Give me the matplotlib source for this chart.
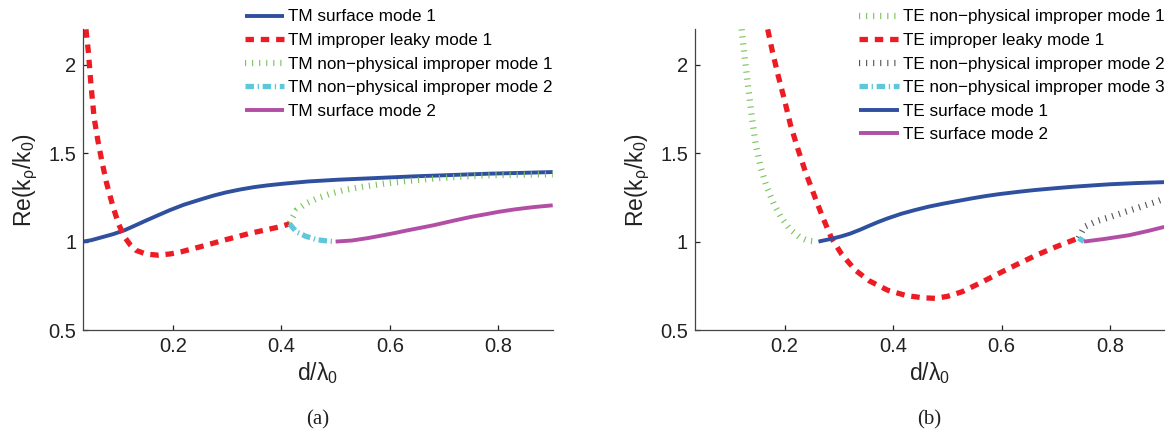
import numpy as np
import matplotlib
matplotlib.use("Agg")
import matplotlib.pyplot as plt

plt.rcParams['font.family'] = ['Liberation Sans', 'DejaVu Sans']
plt.rcParams['mathtext.fontset'] = 'custom'
plt.rcParams['mathtext.rm'] = 'Liberation Sans'
plt.rcParams['mathtext.it'] = 'Liberation Sans:italic'

# ---- panel (a): TM modes ----
tm_s1_x = [0.035, 0.05, 0.07, 0.09, 0.111, 0.13, 0.15, 0.17, 0.194, 0.22, 0.25, 0.275, 0.298, 0.325,
           0.35, 0.375, 0.403, 0.45, 0.506, 0.58, 0.646, 0.72, 0.784, 0.85, 0.9]
tm_s1_y = [1.0, 1.008, 1.025, 1.042, 1.064, 1.09, 1.118, 1.145, 1.177, 1.208, 1.237, 1.26, 1.278, 1.295,
           1.308, 1.318, 1.327, 1.34, 1.35, 1.36, 1.369, 1.377, 1.384, 1.389, 1.393]

tm_leaky_x = [0.040, 0.0445, 0.049, 0.055, 0.062, 0.069, 0.078, 0.09, 0.1, 0.111, 0.122, 0.132, 0.15, 0.173,
              0.195, 0.215, 0.25, 0.298, 0.34, 0.368, 0.395, 0.415]
tm_leaky_y = [2.2, 2.07, 1.894, 1.70, 1.57, 1.459, 1.33, 1.195, 1.1, 1.026, 0.98, 0.951, 0.93, 0.923,
              0.93, 0.942, 0.97, 1.011, 1.045, 1.064, 1.082, 1.1]

tm_np1_x = [0.415, 0.428, 0.445, 0.465, 0.49, 0.514, 0.55, 0.588, 0.63, 0.68, 0.72, 0.772, 0.83, 0.9]
tm_np1_y = [1.105, 1.177, 1.215, 1.243, 1.27, 1.29, 1.31, 1.327, 1.342, 1.356, 1.365, 1.374, 1.378, 1.38]

tm_np2_x = [0.415, 0.428, 0.445, 0.465, 0.48, 0.498]
tm_np2_y = [1.1, 1.054, 1.03, 1.011, 1.005, 1.0]

tm_s2_x = [0.5, 0.53, 0.56, 0.588, 0.61, 0.63, 0.655, 0.68, 0.72, 0.75, 0.772, 0.8, 0.83, 0.865, 0.9]
tm_s2_y = [1.0, 1.006, 1.02, 1.036, 1.049, 1.062, 1.077, 1.092, 1.12, 1.14, 1.152, 1.168, 1.182, 1.195, 1.205]

# ---- panel (b): TE modes ----
te_np1_x = [0.121, 0.127, 0.1335, 0.14, 0.147, 0.156, 0.167, 0.18, 0.194, 0.21, 0.228, 0.243, 0.258]
te_np1_y = [2.2, 2.03, 1.863, 1.70, 1.55, 1.42, 1.31, 1.215, 1.135, 1.07, 1.025, 1.005, 1.0]

te_leaky_x = [0.169, 0.178, 0.189, 0.2, 0.211, 0.225, 0.239, 0.255, 0.27, 0.2866, 0.305, 0.33, 0.355, 0.39,
              0.424, 0.455, 0.478, 0.5, 0.527, 0.56, 0.595, 0.63, 0.664, 0.7, 0.742]
te_leaky_y = [2.2, 2.07, 1.93, 1.80, 1.66, 1.52, 1.39, 1.26, 1.14, 1.02, 0.93, 0.84, 0.78, 0.725,
              0.695, 0.682, 0.679, 0.69, 0.716, 0.765, 0.82, 0.873, 0.923, 0.97, 1.02]

te_np2_x = [0.742, 0.7525, 0.775, 0.8, 0.83, 0.855, 0.88, 0.9]
te_np2_y = [1.02, 1.083, 1.115, 1.139, 1.17, 1.195, 1.22, 1.243]

te_np3_x = [0.742, 0.747, 0.752]
te_np3_y = [1.02, 1.01, 1.0]

te_s1_x = [0.2626, 0.29, 0.305, 0.321, 0.34, 0.355, 0.372, 0.389, 0.415, 0.44, 0.465, 0.492, 0.52, 0.545,
           0.57, 0.595, 0.63, 0.66, 0.7, 0.732, 0.77, 0.8, 0.85, 0.9]
te_s1_y = [1.0, 1.018, 1.03, 1.045, 1.068, 1.088, 1.11, 1.13, 1.157, 1.178, 1.197, 1.214, 1.23, 1.244,
           1.257, 1.268, 1.281, 1.291, 1.302, 1.31, 1.318, 1.324, 1.331, 1.336]

te_s2_x = [0.752, 0.79, 0.835, 0.87, 0.9]
te_s2_y = [1.0, 1.015, 1.036, 1.06, 1.083]

xticks = [0.2, 0.4, 0.6, 0.8]
xtick_labels = ['0.2', '0.4', '0.6', '0.8']
yticks = [0.5, 1.0, 1.5, 2.0]
ytick_labels = ['0.5', '1', '1.5', '2']

# line styles (MATLAB-like)
blue = '#2f4f9f'
red = '#ed1c24'
green = '#78c35a'
cyan = '#5ec7db'
magenta = '#b24fa5'
grey = '#555555'

solid = dict(lw=2.8, ls='-', solid_capstyle='butt', solid_joinstyle='round')
dashed = dict(lw=3.8, ls=(0, (1.6, 1.3)), dash_capstyle='butt')
dotted = dict(lw=4.5, ls=(0, (0.18, 0.95)), dash_capstyle='butt')
dashdot = dict(lw=3.8, ls=(0, (1.6, 0.7, 0.25, 0.7)), dash_capstyle='butt')

fig = plt.figure(figsize=(11.71, 4.32), dpi=100)
ax1 = fig.add_axes([0.0711, 0.2361, 0.4009, 0.696])
ax2 = fig.add_axes([0.5935, 0.2361, 0.4008, 0.696])

ax1.plot(tm_s1_x, tm_s1_y, color=blue, label='TM surface mode 1', **solid)
ax1.plot(tm_leaky_x, tm_leaky_y, color=red, label='TM improper leaky mode 1', **dashed)
ax1.plot(tm_np1_x, tm_np1_y, color=green, label='TM non\u2212physical improper mode 1', **dotted)
ax1.plot(tm_np2_x, tm_np2_y, color=cyan, label='TM non\u2212physical improper mode 2', **dashdot)
ax1.plot(tm_s2_x, tm_s2_y, color=magenta, label='TM surface mode 2', **solid)

ax2.plot(te_np1_x, te_np1_y, color=green, label='TE non\u2212physical improper mode 1', **dotted)
ax2.plot(te_leaky_x, te_leaky_y, color=red, label='TE improper leaky mode 1', **dashed)
ax2.plot(te_np2_x, te_np2_y, color=grey, label='TE non\u2212physical improper mode 2', **dotted)
ax2.plot(te_np3_x, te_np3_y, color=cyan, label='TE non\u2212physical improper mode 3', **dashdot)
ax2.plot(te_s1_x, te_s1_y, color=blue, label='TE surface mode 1', **solid)
ax2.plot(te_s2_x, te_s2_y, color=magenta, label='TE surface mode 2', **solid)

for ax, cap in [(ax1, '(a)'), (ax2, '(b)')]:
    ax.set_xlim(0.035, 0.9)
    ax.set_ylim(0.5, 2.2)
    ax.set_xticks(xticks)
    ax.set_xticklabels(xtick_labels)
    ax.set_yticks(yticks)
    ax.set_yticklabels(ytick_labels)
    for s in ['top', 'right']:
        ax.spines[s].set_visible(False)
    for s in ['left', 'bottom']:
        ax.spines[s].set_color('#444444')
        ax.spines[s].set_linewidth(0.9)
    ax.tick_params(direction='in', length=3.5, width=0.9, color='#222222',
                   labelsize=14.5, labelcolor='#222222', pad=5)
    ax.set_xlabel(r'd/$\mathrm{\lambda}_\mathrm{0}$', fontsize=16.5, color='#222222', labelpad=3)
    ax.set_ylabel(r'Re(k$_\mathrm{\rho}$/k$_\mathrm{0}$)', fontsize=16.5, color='#222222', labelpad=6)
    ax.legend(loc='upper right', bbox_to_anchor=(1.0, 1.066), frameon=False, fontsize=12.3,
              borderaxespad=0, borderpad=0, handlelength=2.3, handletextpad=0.24,
              labelspacing=0.5)
    ax.text(0.5, -0.30, cap, transform=ax.transAxes, ha='center', va='center',
            fontsize=15, family='Liberation Serif', color='#222222')

fig.savefig('out.png', dpi=100)
